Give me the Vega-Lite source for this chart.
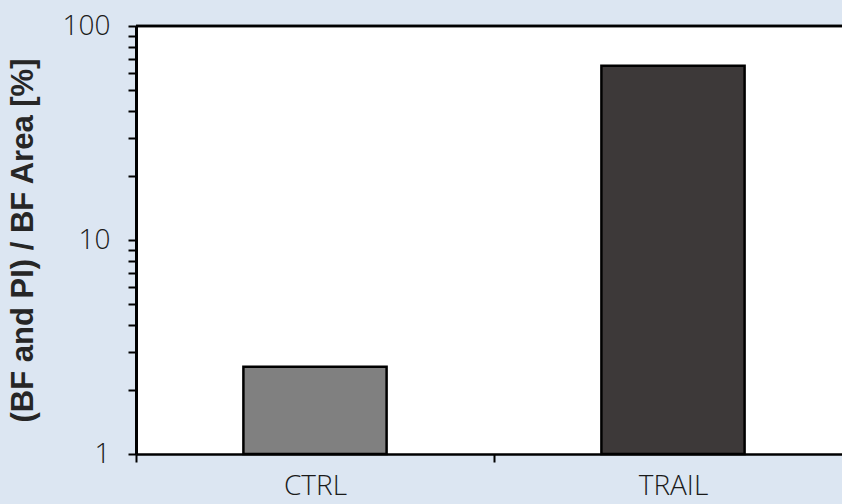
{
  "$schema": "https://vega.github.io/schema/vega-lite/v6.json",
  "autosize": {"type": "none"},
  "padding": {"left": 136, "top": 26, "right": 0, "bottom": 50},
  "width": 706,
  "height": 428,
  "background": "#dce6f2",
  "view": {"fill": "white", "stroke": null},
  "data": {"values": [
    {"group": "CTRL", "value": 2.56},
    {"group": "TRAIL", "value": 65.2}
  ]},
  "layer": [
    {
      "mark": {"type": "bar", "width": {"band": 0.4}, "stroke": "black", "strokeWidth": 2.5},
      "encoding": {
        "x": {
          "field": "group", "type": "nominal",
          "scale": {"type": "band", "paddingInner": 0, "paddingOuter": 0, "range": [0, 716]},
          "axis": {
            "title": null, "labelAngle": 0, "tickBand": "extent",
            "domainColor": "black", "domainWidth": 2.5,
            "tickColor": "black", "tickWidth": 2, "tickSize": 8,
            "labelFont": "Open Sans", "labelFontWeight": 300, "labelFontSize": 28,
            "labelColor": "#1a1a1a", "labelPadding": 10
          }
        },
        "y": {
          "field": "value", "type": "quantitative",
          "scale": {"type": "log", "domain": [1, 100], "nice": false},
          "axis": {
            "title": "(BF and PI) / BF Area [%]",
            "titleFont": "Liberation Sans", "titleFontWeight": "bold", "titleFontSize": 31,
            "titleColor": "#262626", "titlePadding": 23,
            "values": [1, 2, 3, 4, 5, 6, 7, 8, 9, 10, 20, 30, 40, 50, 60, 70, 80, 90, 100],
            "labelExpr": "indexof([1, 10, 100], datum.value) >= 0 ? format(datum.value, 'd') : ''",
            "grid": false,
            "domainColor": "black", "domainWidth": 3,
            "tickColor": "black", "tickWidth": 2, "tickSize": 8,
            "labelFont": "Open Sans", "labelFontWeight": 300, "labelFontSize": 28,
            "labelColor": "#1a1a1a", "labelPadding": 18, "labelBound": false, "labelOverlap": false
          }
        },
        "y2": {"datum": 1},
        "color": {
          "field": "group", "type": "nominal",
          "scale": {"domain": ["CTRL", "TRAIL"], "range": ["#808080", "#3d3939"]},
          "legend": null
        }
      }
    },
    {
      "mark": {"type": "rule", "color": "black", "strokeWidth": 2.5},
      "encoding": {"y": {"datum": 100}}
    }
  ]
}
